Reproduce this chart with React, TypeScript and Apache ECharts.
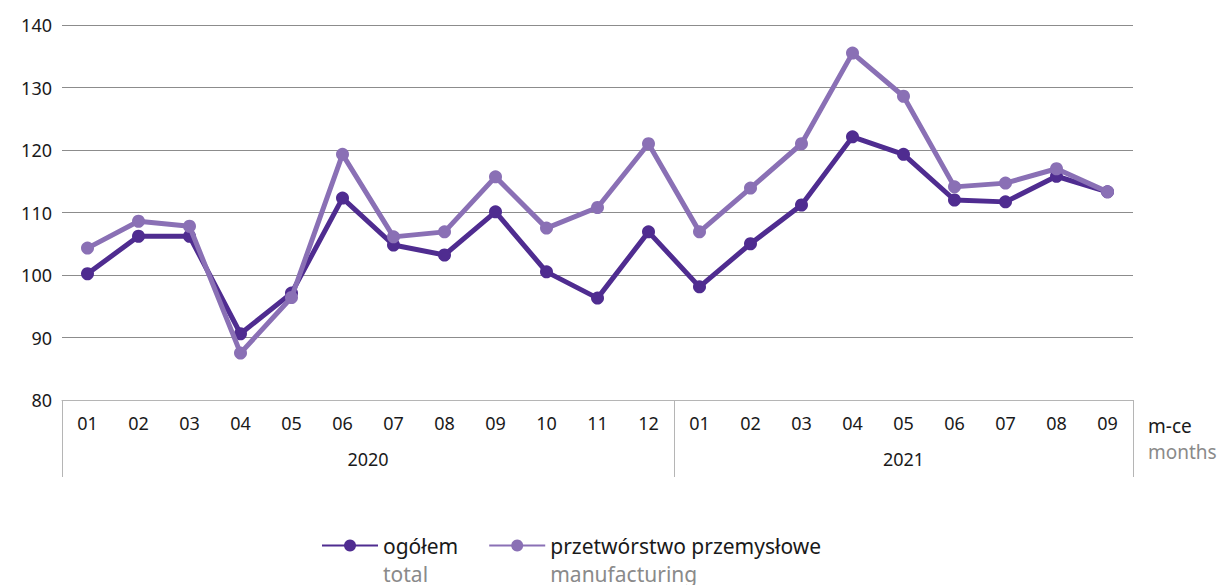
import React, { useEffect, useRef } from "react";
import * as echarts from "echarts";

const months = ["01","02","03","04","05","06","07","08","09","10","11","12","01","02","03","04","05","06","07","08","09"];
const years = ["2020", "2021"];
const yearSpans = [12, 9];
const totalValues = [100.2,106.2,106.2,90.6,97.1,112.3,104.8,103.2,110.1,100.5,96.3,106.9,98.1,105.0,111.2,122.1,119.3,112.0,111.7,115.8,113.3];
const manufValues = [104.3,108.6,107.8,87.5,96.4,119.3,106.1,106.9,115.7,107.5,110.8,121.0,106.9,113.9,121.0,135.5,128.6,114.1,114.7,117.0,113.3];
const seriesNames = ["ogółem", "przetwórstwo przemysłowe"];
const seriesSubNames = ["total", "manufacturing"];
const axisName = ["m-ce", "months"];

const DARK = "#4f2c90";
const LIGHT = "#8a70b5";
const FONT = "'Noto Sans', 'Open Sans', sans-serif";

export default function App() {
  const ref = useRef<HTMLDivElement>(null);
  useEffect(() => {
    const chart = echarts.init(ref.current!, null, { renderer: "svg" });
    let start = -0.5;
    const yearCenters: number[] = [];
    const bounds: number[] = [start];
    yearSpans.forEach((s) => {
      yearCenters.push(start + s / 2);
      start += s;
      bounds.push(start);
    });
    const option: any = {
      animation: false,
      textStyle: { fontFamily: FONT },
      grid: { left: 62, right: 89, top: 25, bottom: 185, containLabel: false },
      legend: {
        left: 316,
        top: 530,
        itemWidth: 56,
        itemHeight: 15,
        itemGap: 30,
        data: seriesNames,
        formatter: (name: string) => {
          const i = seriesNames.indexOf(name);
          return `{a|${name}}\n{b|${seriesSubNames[i]}}`;
        },
        textStyle: {
          padding: [28, 0, 0, 0],
          rich: {
            a: { fontSize: 21, color: "#1a1a1a", lineHeight: 28, fontFamily: FONT },
            b: { fontSize: 21, color: "#8a8a8a", lineHeight: 28, fontFamily: FONT },
          },
        },
      },
      xAxis: [
        {
          type: "category",
          data: months,
          boundaryGap: true,
          axisLine: { lineStyle: { color: "#b5b5b5", width: 1 } },
          axisTick: { show: false },
          axisLabel: { color: "#1a1a1a", fontSize: 18, margin: 14, interval: 0, fontFamily: FONT },
          name: `{a|${axisName[0]}}\n{b|${axisName[1]}}`,
          nameLocation: "end",
          nameGap: 15,
          nameTextStyle: {
            align: "left",
            verticalAlign: "middle",
            padding: [78, 0, 0, 0],
            rich: {
              a: { fontSize: 19, color: "#1a1a1a", lineHeight: 26, fontFamily: FONT },
              b: { fontSize: 19, color: "#8a8a8a", lineHeight: 26, fontFamily: FONT },
            },
          },
        },
        {
          type: "value",
          position: "bottom",
          min: -0.5,
          max: months.length - 0.5,
          interval: 0.5,
          axisLine: { show: false },
          axisTick: { show: false },
          splitLine: { show: false },
          axisLabel: {
            color: "#1a1a1a",
            fontSize: 18,
            margin: 50,
            showMinLabel: true,
            showMaxLabel: true,
            fontFamily: FONT,
            formatter: (v: number) => {
              const i = yearCenters.findIndex((c) => Math.abs(c - v) < 1e-6);
              return i >= 0 ? years[i] : "";
            },
          },
        },
      ],
      yAxis: {
        type: "value",
        min: 80,
        max: 140,
        interval: 10,
        axisLine: { show: false },
        axisTick: { show: false },
        axisLabel: { color: "#1a1a1a", fontSize: 18, margin: 10, fontFamily: FONT },
        splitLine: { lineStyle: { color: "#8c8c8c", width: 1 } },
      },
      series: [
        {
          name: seriesNames[0],
          type: "line",
          data: totalValues,
          symbol: "circle",
          symbolSize: 13,
          lineStyle: { color: DARK, width: 5 },
          itemStyle: { color: DARK },
          z: 3,
        },
        {
          name: seriesNames[1],
          type: "line",
          data: manufValues,
          symbol: "circle",
          symbolSize: 13,
          lineStyle: { color: LIGHT, width: 5 },
          itemStyle: { color: LIGHT },
          z: 4,
        },
      ],
    };
    chart.setOption(option);
    const graphics: any[] = bounds.map((b) => {
      const x = chart.convertToPixel({ xAxisIndex: 1 }, b) as number;
      const y0 = chart.convertToPixel({ yAxisIndex: 0 }, 80) as number;
      return {
        type: "line",
        shape: { x1: Math.round(x) + 0.5, y1: y0, x2: Math.round(x) + 0.5, y2: y0 + 77 },
        style: { stroke: "#b5b5b5", lineWidth: 1 },
        silent: true,
      };
    });
    chart.setOption({ graphic: graphics });
    return () => chart.dispose();
  }, []);
  return (
    <div style={{ position: "fixed", left: 0, top: 0, width: 1222, height: 585, overflow: "hidden", background: "#fff" }}>
      <div ref={ref} style={{ width: 1222, height: 585 }} />
    </div>
  );
}
